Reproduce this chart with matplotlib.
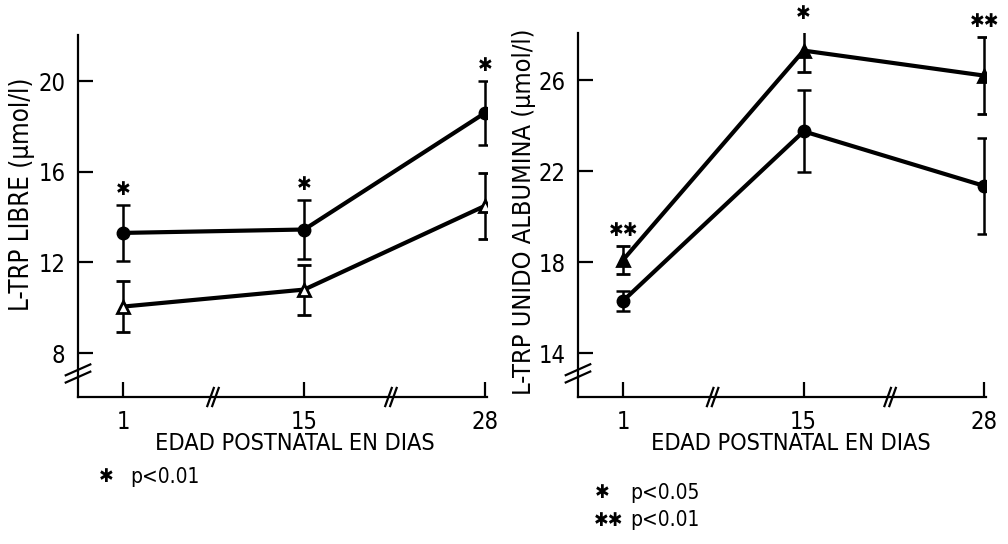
import matplotlib
matplotlib.use("Agg")
import matplotlib.pyplot as plt
from matplotlib.lines import Line2D

plt.rcParams['font.family'] = ['DejaVu Sans']
plt.rcParams['font.stretch'] = 'condensed'

# Postnatal age (days) shown at equally spaced positions
days = [1, 15, 28]
day_labels = ["1", "15", "28"]

# Free L-tryptophan (umol/l)
libre_circ = [13.3, 13.45, 18.6]
libre_circ_err = [1.25, 1.3, 1.4]
libre_tri = [10.05, 10.8, 14.5]
libre_tri_err = [1.12, 1.1, 1.45]
libre_sig = ["✱", "✱", "✱"]

# Albumin-bound L-tryptophan (umol/l)
unido_circ = [16.3, 23.75, 21.35]
unido_circ_err = [0.43, 1.8, 2.1]
unido_tri = [18.1, 27.3, 26.2]
unido_tri_err = [0.6, 0.95, 1.7]
unido_sig = ["✱✱", "✱", "✱✱"]

LW_AX = 1.6
STAR = dict(family='DejaVu Sans', fontsize=14)


def draw_panel(ax, circ, circ_err, tri, tri_err, sig, tri_face, yticks, ylim):
    pos = list(range(len(days)))
    ax.errorbar(pos, circ, yerr=circ_err, fmt='o-', color='black', lw=3.0,
                ms=9, mfc='black', mec='black', elinewidth=1.8, capsize=5,
                capthick=1.8, zorder=3)
    ax.errorbar(pos, tri, yerr=tri_err, fmt='^-', color='black', lw=3.0,
                ms=9, mfc=tri_face, mec='black', mew=2, elinewidth=1.8,
                capsize=5, capthick=1.8, zorder=3)
    # significance marks above the upper error bar
    for i, s in enumerate(sig):
        top = max(circ[i] + circ_err[i], tri[i] + tri_err[i])
        ax.annotate(s, (pos[i], top), xytext=(0, 11), textcoords='offset points',
                    ha='center', va='center', annotation_clip=False, **STAR)

    ax.set_xlim(-0.25, 2.01)
    ax.set_ylim(*ylim)
    ax.set_xticks(pos)
    ax.set_xticklabels(day_labels)
    ax.set_yticks(yticks)
    ax.set_yticklabels([str(t) for t in yticks])
    for side in ('top', 'right'):
        ax.spines[side].set_visible(False)
    for side in ('left', 'bottom'):
        ax.spines[side].set_linewidth(LW_AX)
    ax.tick_params(direction='in', length=11, width=LW_AX, labelsize=17,
                   pad=9)

    # axis break marks
    kw = dict(color='black', lw=1.6, clip_on=False, transform=ax.transAxes)
    for yb in (0.055, 0.075):
        ax.add_line(Line2D([-0.03, 0.03], [yb - 0.015, yb + 0.015], **kw))
    for xb in (0.33, 0.765):
        for dx in (-0.006, 0.006):
            ax.add_line(Line2D([xb + dx - 0.008, xb + dx + 0.008],
                               [-0.025, 0.025], **kw))
    return ax


fig = plt.figure(figsize=(10.08, 5.44), dpi=100)
axL = fig.add_axes([0.0774, 0.2702, 0.4058, 0.6654])
axR = fig.add_axes([0.5734, 0.2702, 0.4048, 0.669])

draw_panel(axL, libre_circ, libre_circ_err, libre_tri, libre_tri_err,
           libre_sig, 'white', [8, 12, 16, 20], (6.06, 22.03))
draw_panel(axR, unido_circ, unido_circ_err, unido_tri, unido_tri_err,
           unido_sig, 'black', [14, 18, 22, 26], (12.07, 28.07))

W, H = 1008, 544


def ft(x, y, s, **kw):
    fig.text(x / W, 1 - y / H, s, **kw)


ft(295, 444, "EDAD POSTNATAL EN DIAS", ha='center', va='center', fontsize=16.8)
ft(791, 444, "EDAD POSTNATAL EN DIAS", ha='center', va='center', fontsize=16.8)
ft(22, 194, "L-TRP LIBRE (μmol/l)", rotation=90, ha='center', va='center',
   fontsize=18.5)
ft(524, 212, "L-TRP UNIDO ALBUMINA (μmol/l)", rotation=90, ha='center',
   va='center', fontsize=18.2)

ft(106, 477, "✱", ha='center', va='center', **STAR)
ft(130, 477, "p<0.01", fontsize=15, ha='left', va='center')
ft(602, 493, "✱", ha='center', va='center', **STAR)
ft(630, 493, "p<0.05", fontsize=15, ha='left', va='center')
ft(609, 520, "✱✱", ha='center', va='center', **STAR)
ft(630, 520, "p<0.01", fontsize=15, ha='left', va='center')

fig.savefig("out.png", dpi=100)
